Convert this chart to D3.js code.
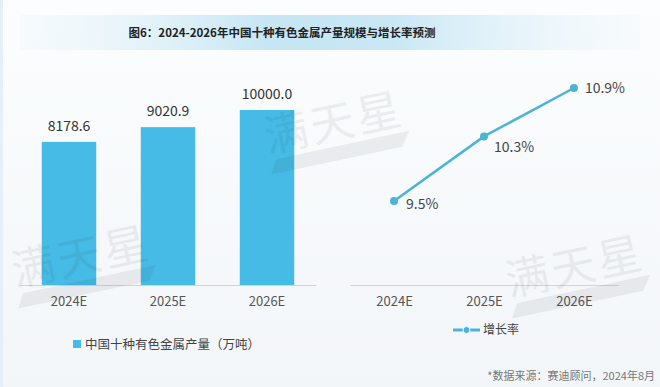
<!DOCTYPE html>
<html>
<head>
<meta charset="utf-8">
<script src="https://cdn.jsdelivr.net/npm/d3@7"></script>
<style>
  body { margin: 0; background: #f6f9fb; }
  text { font-family: "Noto Sans CJK SC", "Noto Sans", sans-serif; }
</style>
</head>
<body>
<div id="chart"></div>
<script>
var years = ["2024E", "2025E", "2026E"];
var output = [8178.6, 9020.9, 10000.0];
var growth = [9.5, 10.3, 10.9];

var W = 660, H = 387;
var baseY = 285;

var svg = d3.select("#chart").append("svg")
  .attr("width", W)
  .attr("height", H);

var defs = svg.append("defs");
var bg = defs.append("linearGradient").attr("id", "bg").attr("x1", 0).attr("y1", 0).attr("x2", 0).attr("y2", 1);
bg.append("stop").attr("offset", "0%").attr("stop-color", "#fbfdfe");
bg.append("stop").attr("offset", "100%").attr("stop-color", "#f3f6f9");

var tb = defs.append("linearGradient").attr("id", "titlebar");
tb.append("stop").attr("offset", "0%").attr("stop-color", "#eaf5fb").attr("stop-opacity", 0.3);
tb.append("stop").attr("offset", "40%").attr("stop-color", "#c6e6f4");
tb.append("stop").attr("offset", "60%").attr("stop-color", "#c9e7f5");
tb.append("stop").attr("offset", "100%").attr("stop-color", "#eef7fb").attr("stop-opacity", 0.3);

svg.append("rect").attr("width", W).attr("height", H).attr("fill", "url(#bg)");
svg.append("rect").attr("x", 0).attr("y", 0).attr("width", 3).attr("height", H).attr("fill", "#e3f0f8");

// title band
svg.append("rect")
  .attr("x", 20).attr("y", 15).attr("width", 620).attr("height", 35)
  .attr("fill", "url(#titlebar)");
svg.append("text")
  .attr("x", 282).attr("y", 33)
  .attr("dy", "0.36em")
  .attr("text-anchor", "middle")
  .attr("font-size", "11.5px")
  .attr("font-weight", "bold")
  .attr("fill", "#222")
  .text("图6：2024-2026年中国十种有色金属产量规模与增长率预测");

// ---- left: bars
var xBar = d3.scaleBand()
  .domain(years)
  .range([20, 316])
  .paddingInner(0.45)
  .paddingOuter(0.22);

var yBar = d3.scaleLinear()
  .domain([0, 10000])
  .range([baseY, 110]);

var left = svg.append("g");

left.selectAll("rect.bar")
  .data(output)
  .enter()
  .append("rect")
  .attr("class", "bar")
  .attr("x", (d, i) => xBar(years[i]))
  .attr("y", d => yBar(d))
  .attr("width", xBar.bandwidth())
  .attr("height", d => baseY - yBar(d))
  .attr("fill", "#45bbe5");

left.selectAll("text.val")
  .data(output)
  .enter()
  .append("text")
  .attr("class", "val")
  .attr("x", (d, i) => xBar(years[i]) + xBar.bandwidth() / 2)
  .attr("y", d => yBar(d) - 16)
  .attr("dy", "0.36em")
  .attr("text-anchor", "middle")
  .attr("font-size", "14px")
  .attr("fill", "#333")
  .text(d => d.toFixed(1));

var xAxisL = left.append("g")
  .attr("transform", `translate(0, ${baseY})`)
  .call(d3.axisBottom(xBar).tickSize(0).tickPadding(12));
xAxisL.select(".domain").attr("stroke", "#cfd4d8");
xAxisL.selectAll("text")
  .attr("font-size", "13px")
  .attr("fill", "#555")
  .style("font-family", "\"Noto Sans CJK SC\", sans-serif");

// ---- right: line
var xLine = d3.scalePoint()
  .domain(years)
  .range([350, 618])
  .padding(0.49);

var yLine = d3.scaleLinear()
  .domain([9.5, 10.9])
  .range([201, 88]);

var right = svg.append("g");

var xAxisR = right.append("g")
  .attr("transform", `translate(0, ${baseY})`)
  .call(d3.axisBottom(xLine).tickSize(0).tickPadding(12));
xAxisR.select(".domain").attr("stroke", "#cfd4d8");
xAxisR.selectAll("text")
  .attr("font-size", "13px")
  .attr("fill", "#555")
  .style("font-family", "\"Noto Sans CJK SC\", sans-serif");

var line = d3.line()
  .x((d, i) => xLine(years[i]))
  .y(d => yLine(d));

right.append("path")
  .datum(growth)
  .attr("d", line)
  .attr("fill", "none")
  .attr("stroke", "#4ab4d6")
  .attr("stroke-width", 2.5);

right.selectAll("circle")
  .data(growth)
  .enter()
  .append("circle")
  .attr("cx", (d, i) => xLine(years[i]))
  .attr("cy", d => yLine(d))
  .attr("r", 4)
  .attr("fill", "#4ab4d6");

var labOff = [[12, 3], [10, 11], [11, 0]];
right.selectAll("text.pct")
  .data(growth)
  .enter()
  .append("text")
  .attr("class", "pct")
  .attr("x", (d, i) => xLine(years[i]) + labOff[i][0])
  .attr("y", (d, i) => yLine(d) + labOff[i][1])
  .attr("dy", "0.36em")
  .attr("font-size", "14px")
  .attr("fill", "#444")
  .text(d => d.toFixed(1) + "%");

// ---- legends
svg.append("rect")
  .attr("x", 73).attr("y", 340).attr("width", 8).attr("height", 8)
  .attr("fill", "#45bbe5");
svg.append("text")
  .attr("x", 85).attr("y", 344)
  .attr("dy", "0.36em")
  .attr("font-size", "12.5px")
  .attr("fill", "#444")
  .text("中国十种有色金属产量（万吨）");

svg.append("line")
  .attr("x1", 453).attr("x2", 480).attr("y1", 330).attr("y2", 330)
  .attr("stroke", "#4ab4d6").attr("stroke-width", 3);
svg.append("circle")
  .attr("cx", 466.5).attr("cy", 330).attr("r", 3.5)
  .attr("fill", "#4ab4d6").attr("stroke", "#f4f7fa").attr("stroke-width", 1);
svg.append("text")
  .attr("x", 483).attr("y", 330)
  .attr("dy", "0.36em")
  .attr("font-size", "12px")
  .attr("fill", "#444")
  .text("增长率");

// source
svg.append("text")
  .attr("x", 655).attr("y", 376)
  .attr("dy", "0.36em")
  .attr("text-anchor", "end")
  .attr("font-size", "11px")
  .attr("fill", "#777")
  .text("*数据来源：赛迪顾问，2024年8月");

// watermarks
var marks = [[337, 138], [84, 272], [578, 282]];
marks.forEach(function(m) {
  var g = svg.append("g")
    .attr("transform", `translate(${m[0]}, ${m[1]}) rotate(-12)`)
    .attr("opacity", 0.07);
  g.append("text")
    .attr("text-anchor", "middle")
    .attr("font-size", "44px")
    .attr("letter-spacing", "3px")
    .attr("fill", "#333")
    .text("满天星");
  g.append("path")
    .attr("d", "M-64,8 L72,8 L62,22 L-72,22 Z")
    .attr("fill", "#333");
});
</script>
</body>
</html>
